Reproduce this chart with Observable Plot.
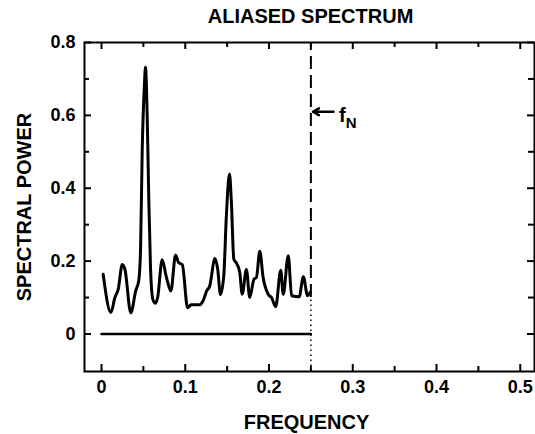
<!DOCTYPE html>
<html>
<head>
<meta charset="utf-8">
<script src="https://cdn.jsdelivr.net/npm/d3@7"></script>
<script src="https://cdn.jsdelivr.net/npm/@observablehq/plot@0.6"></script>
<style>
  html, body { margin: 0; padding: 0; background: white; }
  #chart { width: 535px; height: 434px; }
</style>
</head>
<body>
<div id="chart"></div>
<script>
// Spectrum (frequency, spectral power)
const freq  = [0.002, 0.0112, 0.016, 0.020, 0.0248, 0.028, 0.035, 0.041, 0.0445, 0.0466, 0.0486, 0.0513, 0.0525, 0.0546, 0.0565, 0.0585, 0.0613, 0.0645, 0.067, 0.0725, 0.0772, 0.0828, 0.0885, 0.092, 0.0965, 0.1028, 0.107, 0.117, 0.121, 0.126, 0.129, 0.1355, 0.1388, 0.142, 0.146, 0.149, 0.1528, 0.155, 0.158, 0.161, 0.165, 0.168, 0.173, 0.177, 0.182, 0.185, 0.189, 0.193, 0.199, 0.203, 0.208, 0.214, 0.217, 0.223, 0.227, 0.236, 0.241, 0.246, 0.249];
const power = [0.164, 0.059, 0.100, 0.123, 0.191, 0.177, 0.058, 0.12, 0.147, 0.229, 0.503, 0.687, 0.732, 0.594, 0.365, 0.183, 0.095, 0.084, 0.1, 0.204, 0.159, 0.118, 0.217, 0.196, 0.19, 0.072, 0.08, 0.08, 0.09, 0.12, 0.13, 0.207, 0.177, 0.108, 0.16, 0.32, 0.439, 0.366, 0.205, 0.195, 0.17, 0.109, 0.177, 0.100, 0.150, 0.155, 0.227, 0.155, 0.109, 0.100, 0.075, 0.175, 0.109, 0.215, 0.105, 0.102, 0.157, 0.105, 0.114];

const xTickLabels = [0, 0.1, 0.2, 0.3, 0.4, 0.5];
const xMinorTicks = [0.05, 0.15, 0.25, 0.35, 0.45];
const yTickLabels = [0, 0.2, 0.4, 0.6, 0.8];
const yMinorTicks = [0.1, 0.3, 0.5, 0.7];

const nyquist = 0.25;          // f_N
const baseline = [0, 0.25];    // zero line extent
const markerLevel = 0.61;      // arrow height
const title = "ALIASED SPECTRUM";
const xLabel = "FREQUENCY";
const yLabel = "SPECTRAL POWER";

const data = freq.map((f, i) => ({f, p: power[i]}));

const W = 535, H = 434, mL = 84, mR = 1, mT = 42, mB = 63;
const fH = H - mT - mB, fW = W - mL - mR;
const bold = {fontWeight: "bold"};
const fmt = d => d === 0 ? "0" : d3.format(".1f")(d);

const chart = Plot.plot({
  width: W, height: H,
  marginLeft: mL, marginRight: mR, marginTop: mT, marginBottom: mB,
  style: {fontFamily: "'Liberation Sans', Arial, Helvetica, sans-serif", color: "black", background: "white"},
  x: {domain: [-0.0203, 0.517], axis: null},
  y: {domain: [-0.103, 0.8], axis: null},
  marks: [
    // frame
    Plot.frame({stroke: "black", strokeWidth: 2}),
    // inward ticks: bottom / top
    Plot.tickX(xTickLabels, {x: d => d, insetTop: fH - 7, strokeWidth: 2}),
    Plot.tickX(xMinorTicks, {x: d => d, insetTop: fH - 5, strokeWidth: 2}),
    Plot.tickX(xTickLabels, {x: d => d, insetBottom: fH - 7, strokeWidth: 2}),
    Plot.tickX(xMinorTicks, {x: d => d, insetBottom: fH - 5, strokeWidth: 2}),
    // inward ticks: left / right
    Plot.tickY(yTickLabels, {y: d => d, insetRight: fW - 7, strokeWidth: 2}),
    Plot.tickY(yMinorTicks, {y: d => d, insetRight: fW - 5, strokeWidth: 2}),
    Plot.tickY(yTickLabels, {y: d => d, insetLeft: fW - 7, strokeWidth: 2}),
    Plot.tickY(yMinorTicks, {y: d => d, insetLeft: fW - 6, strokeWidth: 2}),
    // tick labels
    Plot.axisX(xTickLabels, {tickSize: 0, tickPadding: 9, fontSize: 18, fontWeight: "bold", label: null, tickFormat: fmt}),
    Plot.axisY(yTickLabels, {tickSize: 0, tickPadding: 9, fontSize: 18, fontWeight: "bold", label: null, tickFormat: fmt}),
    // zero line
    Plot.line(baseline.map(f => ({f, p: 0})), {x: "f", y: "p", strokeWidth: 2.5}),
    // Nyquist line: dashed above, dotted below
    Plot.ruleX([nyquist], {y1: 0.1, y2: 0.8, strokeWidth: 2, strokeDasharray: "13,6"}),
    Plot.ruleX([nyquist], {y1: -0.103, y2: 0.1, strokeWidth: 1.5, strokeDasharray: "1.5,3.5"}),
    // spectrum
    Plot.line(data, {x: "f", y: "p", curve: "monotone-x", strokeWidth: 3, stroke: "black", strokeLinejoin: "round"}),
    // annotation arrow + f_N
    Plot.arrow([{x1: 0.277, x2: 0.2525, y: markerLevel}], {x1: "x1", x2: "x2", y1: "y", y2: "y", strokeWidth: 2.5, headLength: 7, stroke: "black"}),
    Plot.text(["f"], {x: 0.2835, y: markerLevel, dy: 4, textAnchor: "start", fontSize: 20, ...bold}),
    Plot.text(["N"], {x: 0.2915, y: markerLevel, dy: 11, textAnchor: "start", fontSize: 15, ...bold}),
    // titles
    Plot.text([title], {frameAnchor: "top", lineAnchor: "middle", textAnchor: "middle", dy: -26.4, dx: 1, fontSize: 20, ...bold}),
    Plot.text([xLabel], {frameAnchor: "bottom", lineAnchor: "middle", textAnchor: "middle", dy: 50.6, dx: -3, fontSize: 20, ...bold}),
    Plot.text([yLabel], {frameAnchor: "left", lineAnchor: "middle", textAnchor: "middle", dx: -60, rotate: -90, fontSize: 20, ...bold})
  ]
});
document.getElementById("chart").appendChild(chart);
</script>
</body>
</html>
